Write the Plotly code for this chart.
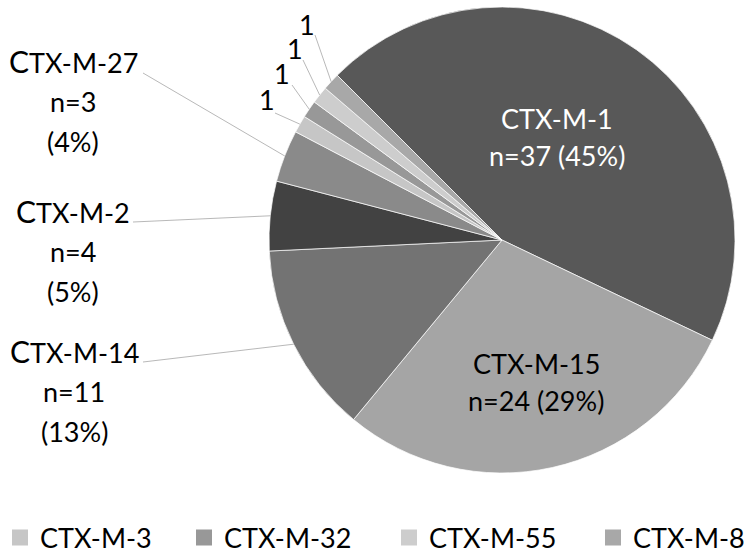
import math
import plotly.graph_objects as go

# ---- data ----
labels = ["CTX-M-1", "CTX-M-15", "CTX-M-14", "CTX-M-2", "CTX-M-27",
          "CTX-M-3", "CTX-M-32", "CTX-M-55", "CTX-M-8"]
counts = [37, 24, 11, 4, 3, 1, 1, 1, 1]
colors = ["#585858", "#a5a5a5", "#737373", "#424242", "#8a8a8a",
          "#c6c6c6", "#989898", "#cdcdcd", "#a8a8a8"]
legend_labels = ["CTX-M-3", "CTX-M-32", "CTX-M-55", "CTX-M-8"]

# ---- layout constants (pixels) ----
W, H = 750, 555
CX, CY, R = 502, 240, 233
ROT = 315
FONT = "Lato, 'Open Sans', sans-serif"
FS = 27
LINE_COL = "#a6a6a6"
DY = -2  # text baseline correction

total = sum(counts)
pct = {lab: round(100 * c / total) for lab, c in zip(labels, counts)}
cnt = dict(zip(labels, counts))
col = dict(zip(labels, colors))


def px(x):
    return x / W


def py(y):
    return 1 - y / H


def edge_point(lab):
    i = labels.index(lab)
    before = sum(counts[:i])
    ang = math.radians(ROT + (before + counts[i] / 2) / total * 360)
    return CX + R * math.sin(ang), CY - R * math.cos(ang)


fig = go.Figure()
fig.add_trace(go.Pie(
    labels=labels, values=counts, sort=False, direction="clockwise",
    rotation=ROT, textinfo="none", hoverinfo="label+value+percent",
    marker=dict(colors=colors, line=dict(color="#ffffff", width=0.7)),
    domain=dict(x=[px(CX - R), px(CX + R)], y=[py(CY + R), py(CY - R)]),
    showlegend=False,
))

# legend entries for the four small types
legend_widths = [139, 160, 159, 112]
for lab, lw in zip(legend_labels, legend_widths):
    fig.add_trace(go.Scatter(
        x=[None], y=[None], mode="markers", name=lab,
        marker=dict(symbol="square", size=17, color=col[lab]),
        legendwidth=lw, showlegend=True,
    ))

annotations = []
shapes = []

# inside labels
inside = {
    "CTX-M-1": (557, 120, 157, "#ffffff"),
    "CTX-M-15": (536, 365, 403, "#000000"),
}
for lab, (x, y1, y2, c) in inside.items():
    annotations.append(dict(x=px(x), y=py(y1 + DY), text=lab, font=dict(color=c, size=FS, family=FONT)))
    annotations.append(dict(x=px(x), y=py(y2 + DY), text=f"n={cnt[lab]} ({pct[lab]}%)",
                            font=dict(color=c, size=FS, family=FONT)))

# outside labels with leader lines: center x, first-line y, leader start
outside = {
    "CTX-M-27": (73, 63, (143, 73)),
    "CTX-M-2": (73, 213, (133, 222)),
    "CTX-M-14": (74, 353, (143, 362)),
}
for lab, (x, y, (lx, ly)) in outside.items():
    lines = [f"<span style='font-size:{FS + 3}px'>C</span>{lab[1:]}",
             f"n={cnt[lab]}", f"({pct[lab]}%)"]
    for k, t in enumerate(lines):
        annotations.append(dict(x=px(x), y=py(y + 40 * k + DY), text=t,
                                font=dict(color="#000000", size=FS, family=FONT)))
    ex, ey = edge_point(lab)
    shapes.append(dict(type="line", xref="paper", yref="paper",
                       x0=px(lx), y0=py(ly), x1=px(ex), y1=py(ey),
                       line=dict(color=LINE_COL, width=0.8)))

# small "1" labels
small = {
    "CTX-M-3": (267, 102, (275, 113)),
    "CTX-M-32": (282, 76, (292, 85)),
    "CTX-M-55": (295, 51, (303, 60)),
    "CTX-M-8": (307, 27, (315, 35)),
}
for lab, (x, y, (lx, ly)) in small.items():
    annotations.append(dict(x=px(x), y=py(y + DY), text=str(cnt[lab]),
                            font=dict(color="#000000", size=FS, family=FONT)))
    ex, ey = edge_point(lab)
    shapes.append(dict(type="line", xref="paper", yref="paper",
                       x0=px(lx), y0=py(ly), x1=px(ex), y1=py(ey),
                       line=dict(color=LINE_COL, width=0.8)))

for a in annotations:
    a.update(xref="paper", yref="paper", showarrow=False,
             xanchor="center", yanchor="middle")

fig.update_layout(
    width=W, height=H, margin=dict(l=0, r=0, t=0, b=0, autoexpand=False),
    paper_bgcolor="#ffffff", plot_bgcolor="#ffffff",
    xaxis=dict(visible=False), yaxis=dict(visible=False),
    annotations=annotations, shapes=shapes,
    legend=dict(orientation="h", x=0, y=py(538), xref="container", yref="container",
                xanchor="left", yanchor="middle",
                font=dict(size=FS, family=FONT, color="#000000"),
                bgcolor="rgba(0,0,0,0)", itemclick=False),
    font=dict(family=FONT),
)

fig.write_html("out.html", config={"displayModeBar": False},
               post_script="document.body.style.margin='0';document.body.style.overflow='hidden';")
